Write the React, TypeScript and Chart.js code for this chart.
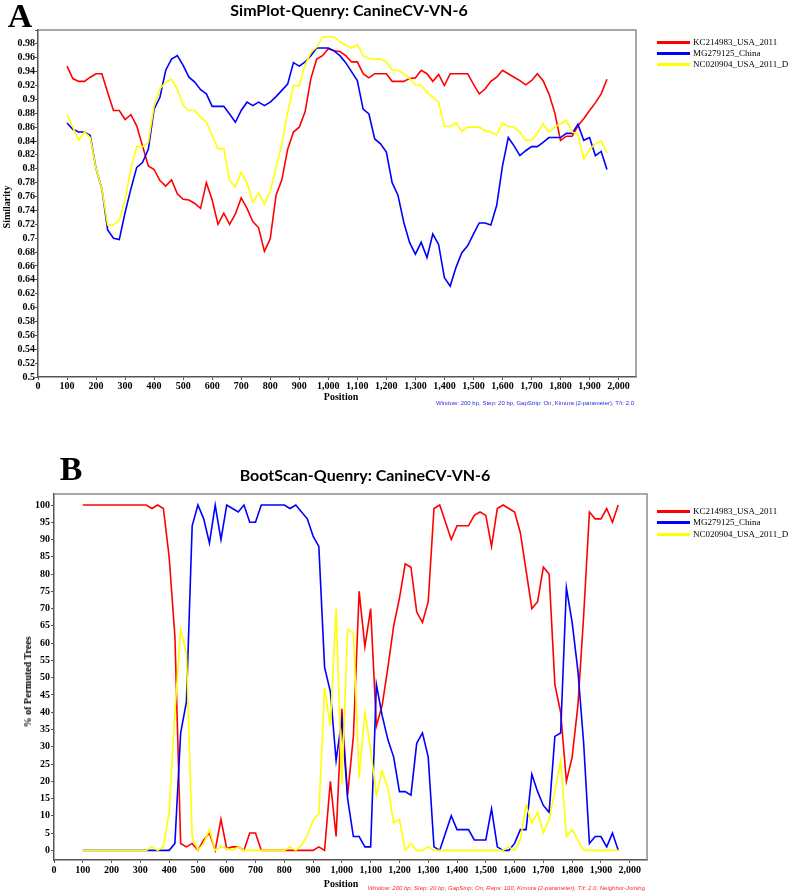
import React, { useEffect, useRef } from 'react';
import { Chart, registerables } from 'chart.js';

Chart.register(...registerables);

// ---------- DATA ----------
const positions = [
  100, 120, 140, 160, 180, 200, 220, 240, 260, 280,
  300, 320, 340, 360, 380, 400, 420, 440, 460, 480,
  500, 520, 540, 560, 580, 600, 620, 640, 660, 680,
  700, 720, 740, 760, 780, 800, 820, 840, 860, 880,
  900, 920, 940, 960, 980, 1000, 1020, 1040, 1060, 1080,
  1100, 1120, 1140, 1160, 1180, 1200, 1220, 1240, 1260, 1280,
  1300, 1320, 1340, 1360, 1380, 1400, 1420, 1440, 1460, 1480,
  1500, 1520, 1540, 1560, 1580, 1600, 1620, 1640, 1660, 1680,
  1700, 1720, 1740, 1760, 1780, 1800, 1820, 1840, 1860, 1880,
  1900, 1920, 1940, 1960,
];

const seriesNames = ['KC214983_USA_2011', 'MG279125_China', 'NC020904_USA_2011_D'];

// SimPlot similarity
const simRed = [
  0.948, 0.930, 0.926, 0.926, 0.932, 0.937, 0.937, 0.910, 0.884, 0.884,
  0.871, 0.878, 0.862, 0.833, 0.804, 0.799, 0.783, 0.775, 0.784, 0.764,
  0.756, 0.755, 0.750, 0.743, 0.780, 0.755, 0.720, 0.736, 0.720, 0.735,
  0.758, 0.743, 0.724, 0.715, 0.681, 0.699, 0.762, 0.784, 0.828, 0.853,
  0.860, 0.882, 0.930, 0.958, 0.963, 0.973,
  0.970, 0.969, 0.963, 0.954, 0.954, 0.937, 0.931, 0.937, 0.937, 0.937,
  0.926, 0.926, 0.926, 0.930, 0.931, 0.942, 0.937, 0.926, 0.936, 0.920,
  0.937, 0.937, 0.937, 0.937, 0.922, 0.908, 0.915, 0.926, 0.932, 0.942,
  0.937, 0.932, 0.927, 0.921, 0.927, 0.937, 0.927, 0.908, 0.881, 0.841,
  0.847, 0.847, 0.862, 0.872, 0.884, 0.895, 0.908, 0.929,
];
const simBlue = [
  0.866, 0.857, 0.853, 0.853, 0.848, 0.800, 0.771, 0.712, 0.700, 0.698,
  0.737, 0.771, 0.802, 0.809, 0.828, 0.886, 0.903, 0.942, 0.958, 0.963,
  0.949, 0.932, 0.925, 0.914, 0.908, 0.890, 0.890, 0.890, 0.879, 0.867,
  0.884, 0.896, 0.891, 0.896, 0.891, 0.896, 0.904, 0.913, 0.922, 0.953,
  0.948, 0.954, 0.963, 0.974, 0.974, 0.974,
  0.970, 0.963, 0.953, 0.940, 0.927, 0.886, 0.879, 0.843, 0.836, 0.824,
  0.780, 0.762, 0.723, 0.694, 0.677, 0.694, 0.672, 0.706, 0.691, 0.643,
  0.631, 0.658, 0.679, 0.689, 0.706, 0.722, 0.722, 0.719, 0.747, 0.804,
  0.845, 0.833, 0.819, 0.826, 0.832, 0.832, 0.838, 0.845, 0.845, 0.845,
  0.851, 0.851, 0.864, 0.841, 0.845, 0.819, 0.825, 0.799,
];
const simYellow = [
  0.878, 0.860, 0.841, 0.853, 0.845, 0.800, 0.771, 0.719, 0.719, 0.725,
  0.756, 0.800, 0.832, 0.832, 0.838, 0.891, 0.915, 0.925, 0.929, 0.915,
  0.891, 0.884, 0.884, 0.874, 0.867, 0.848, 0.829, 0.829, 0.783, 0.774,
  0.795, 0.780, 0.752, 0.765, 0.749, 0.768, 0.802, 0.836, 0.881, 0.920,
  0.920, 0.949, 0.968, 0.975, 0.990, 0.990,
  0.990, 0.983, 0.978, 0.974, 0.979, 0.963, 0.959, 0.958, 0.958, 0.954,
  0.942, 0.942, 0.937, 0.930, 0.921, 0.920, 0.910, 0.903, 0.896, 0.861,
  0.861, 0.866, 0.854, 0.860, 0.860, 0.860, 0.855, 0.853, 0.849, 0.866,
  0.861, 0.860, 0.853, 0.841, 0.841, 0.851, 0.865, 0.853, 0.860, 0.865,
  0.870, 0.853, 0.850, 0.814, 0.828, 0.836, 0.840, 0.823,
];

// BootScan % of permuted trees
const bootRed = [
  100, 100, 100, 100, 100, 100, 100, 100, 100, 100,
  100, 100, 99, 100, 99, 85, 62, 2, 1, 2,
  0, 3, 5, 0, 9, 0.5, 1, 1, 0, 5,
  5, 0, 0, 0, 0, 0, 0, 0, 0, 0,
  0, 1, 0, 20, 4, 41,
  16, 33, 75, 59, 70, 36, 42, 53, 65, 73,
  83, 82, 69, 66, 72, 99, 100, 95, 90, 94,
  94, 94, 97, 98, 97, 88, 99, 100, 99, 98,
  92, 81, 70, 72, 82, 80, 48, 40, 20, 27,
  42, 68, 98, 96, 96, 99, 95, 100,
];
const bootBlue = [
  0, 0, 0, 0, 0, 0, 0, 0, 0, 0,
  0, 0, 0, 0, 0, 0, 2, 34, 43, 94,
  100, 96, 89, 100, 90, 100, 99, 98, 100, 95,
  95, 100, 100, 100, 100, 100, 99, 100, 98, 96,
  91, 88, 53, 46, 26, 38,
  15, 4, 4, 1, 1, 48, 39, 32, 27, 17,
  17, 16, 31, 34, 27, 1, 0, 5, 10, 6,
  6, 6, 3, 3, 3, 12, 1, 0, 0, 2,
  6, 6, 22, 17, 13, 11, 33, 34, 76, 66,
  52, 31, 2, 4, 4, 1, 5, 0,
];
const bootYellow = [
  0, 0, 0, 0, 0, 0, 0, 0, 0, 0,
  0, 0, 1, 0, 1, 11, 40, 64, 57, 4,
  0, 2, 6, 0, 1, 0.5, 0, 1, 0, 0,
  0, 0, 0, 0, 0, 0, 1, 0, 1.5, 4.3,
  8.7, 10.6, 47, 36, 70, 19,
  64, 63, 21, 40, 29, 16, 23, 18, 8, 9,
  0, 2, 0, 0, 1, 0, 0, 0, 0, 0,
  0, 0, 0, 0, 0, 0, 0, 0, 1, 0,
  3, 13, 8, 11, 5, 9, 17, 26, 4, 6,
  3, 0, 0, 0, 0, 0, 0, 0,
];

const COLORS = ['#ff0000', '#0000ff', '#ffff00'];
const SERIF = '"Liberation Serif", "Times New Roman", serif';
const SANS = '"Liberation Sans", Arial, sans-serif';

const boxPlugin = {
  id: 'boxPlugin',
  afterDraw(chart: any) {
    const { ctx, chartArea } = chart;
    ctx.save();
    ctx.strokeStyle = '#8c8c8c';
    ctx.lineWidth = 1.5;
    ctx.beginPath();
    ctx.moveTo(chartArea.left, chartArea.top);
    ctx.lineTo(chartArea.right, chartArea.top);
    ctx.lineTo(chartArea.right, chartArea.bottom);
    ctx.stroke();
    ctx.restore();
  },
};

function buildConfig(p: {
  series: number[][];
  yMin: number;
  yMax: number;
  yStep: number;
  yFmt: (v: number) => string;
  padTop: number;
  padRight: number;
  yWidth: number;
  xHeight: number;
  yPad: number;
  xPad: number;
}) {
  const datasets = p.series.map((vals, i) => ({
    label: seriesNames[i],
    data: positions.map((x, j) => ({ x, y: vals[j] })),
    borderColor: COLORS[i],
    backgroundColor: COLORS[i],
    borderWidth: 1.6,
    pointRadius: 0,
    tension: 0,
    fill: false,
    order: 2 - i,
  }));
  const tickFont = { family: SERIF, weight: 'bold' as const, size: 10 };
  return {
    type: 'line' as const,
    data: { datasets },
    options: {
      responsive: false,
      animation: false as const,
      events: [],
      layout: { padding: { top: p.padTop, right: p.padRight, left: 0, bottom: 0 } },
      plugins: { legend: { display: false }, tooltip: { enabled: false }, title: { display: false } },
      scales: {
        x: {
          type: 'linear' as const,
          min: 0,
          max: 2060,
          afterFit: (s: any) => { s.height = p.xHeight; },
          ticks: {
            stepSize: 100,
            includeBounds: false,
            autoSkip: false,
            maxRotation: 0,
            padding: p.xPad,
            color: '#000',
            font: tickFont,
            callback: (v: any) => Number(v).toLocaleString('en-US'),
          },
          grid: { display: true, drawOnChartArea: false, drawTicks: true, tickLength: 3, color: '#555' },
          border: { display: true, color: '#555', width: 1.5 },
        },
        y: {
          type: 'linear' as const,
          min: p.yMin,
          max: p.yMax,
          afterFit: (s: any) => { s.width = p.yWidth; },
          ticks: {
            stepSize: p.yStep,
            includeBounds: false,
            autoSkip: false,
            padding: p.yPad,
            color: '#000',
            font: tickFont,
            callback: (v: any) => p.yFmt(Number(v)),
          },
          grid: { display: true, drawOnChartArea: false, drawTicks: true, tickLength: 3, color: '#555' },
          border: { display: true, color: '#555', width: 1.5 },
        },
      },
    },
    plugins: [boxPlugin],
  };
}

function Abs(props: { x: number; y: number; children: any; style?: any }) {
  return (
    <div
      style={{
        position: 'absolute',
        left: props.x,
        top: props.y,
        transform: 'translate(-50%, -50%)',
        whiteSpace: 'nowrap',
        lineHeight: 1,
        ...props.style,
      }}
    >
      {props.children}
    </div>
  );
}

function Rotated(props: { x: number; y: number; text: string; style: any }) {
  return (
    <div
      style={{
        position: 'absolute',
        left: props.x,
        top: props.y,
        transform: 'translate(-50%, -50%) rotate(-90deg)',
        whiteSpace: 'nowrap',
        lineHeight: 1,
        ...props.style,
      }}
    >
      {props.text}
    </div>
  );
}

function Legend(props: { x: number; ys: number[] }) {
  return (
    <>
      {seriesNames.map((name, i) => (
        <React.Fragment key={name}>
          <div
            style={{
              position: 'absolute',
              left: props.x,
              top: props.ys[i] - 1.5,
              width: 33,
              height: 3,
              background: COLORS[i],
            }}
          />
          <div
            style={{
              position: 'absolute',
              left: props.x + 36,
              top: props.ys[i],
              transform: 'translateY(-50%)',
              fontFamily: SERIF,
              fontSize: 9,
              lineHeight: 1,
              color: '#000',
              whiteSpace: 'nowrap',
            }}
          >
            {name}
          </div>
        </React.Fragment>
      ))}
    </>
  );
}

export default function App() {
  const refA = useRef<HTMLCanvasElement>(null);
  const refB = useRef<HTMLCanvasElement>(null);

  useEffect(() => {
    const cfgA: any = buildConfig({
      series: [simRed, simBlue, simYellow],
      yMin: 0.5,
      yMax: 1.0,
      yStep: 0.02,
      yFmt: (v) => (v > 0.995 ? '' : String(parseFloat(v.toFixed(2)))),
      padTop: 30,
      padRight: 790 - 636,
      yWidth: 38,
      xHeight: 400 - 377,
      yPad: 0,
      xPad: 0,
    });
    const cfgB: any = buildConfig({
      series: [bootRed, bootBlue, bootYellow],
      yMin: -2.8,
      yMax: 103.2,
      yStep: 5,
      yFmt: (v) => String(Math.round(v)),
      padTop: 54,
      padRight: 790 - 647,
      yWidth: 54,
      xHeight: 440 - 420,
      yPad: 1,
      xPad: 1,
    });
    const a = new Chart(refA.current as HTMLCanvasElement, cfgA);
    const b = new Chart(refB.current as HTMLCanvasElement, cfgB);
    return () => {
      a.destroy();
      b.destroy();
    };
  }, []);

  const titleStyle = { fontFamily: 'Lato, "Open Sans", sans-serif', fontWeight: 700, fontSize: 16, color: '#000' };
  const letterStyle = { fontFamily: SERIF, fontWeight: 700, fontSize: 34, color: '#000' };
  const axisTitle = { fontFamily: SERIF, fontWeight: 700, fontSize: 10, color: '#000' };

  return (
    <div style={{ position: 'absolute', left: 0, top: 0, width: 790, height: 895, background: '#fff', overflow: 'hidden' }}>
      <canvas ref={refA} width={790} height={400} style={{ position: 'absolute', left: 0, top: 0, width: 790, height: 400 }} />
      <canvas ref={refB} width={790} height={440} style={{ position: 'absolute', left: 0, top: 440, width: 790, height: 440 }} />

      {/* Panel A text */}
      <Abs x={20} y={16} style={letterStyle}>A</Abs>
      <Abs x={349} y={10} style={titleStyle}>SimPlot-Quenry: CanineCV-VN-6</Abs>
      <Rotated x={7} y={207} text="Similarity" style={axisTitle} />
      <Abs x={341} y={397} style={axisTitle}>Position</Abs>
      <div
        style={{
          position: 'absolute', right: 790 - 634, top: 403, transform: 'translateY(-50%)',
          fontFamily: SANS, fontSize: 6, lineHeight: 1, color: '#2a2ae6', whiteSpace: 'nowrap',
        }}
      >
        Window: 200 bp, Step: 20 bp, GapStrip: On, Kimura (2-parameter), T/t: 2.0
      </div>
      <Legend x={657} ys={[42, 53, 64]} />

      {/* Panel B text */}
      <Abs x={71} y={469} style={letterStyle}>B</Abs>
      <Abs x={365} y={475} style={titleStyle}>BootScan-Quenry: CanineCV-VN-6</Abs>
      <Rotated x={28} y={682} text="% of Permuted Trees" style={axisTitle} />
      <Abs x={341} y={884} style={axisTitle}>Position</Abs>
      <div
        style={{
          position: 'absolute', right: 790 - 645, top: 888, transform: 'translateY(-50%)',
          fontFamily: SANS, fontStyle: 'italic', fontSize: 6, lineHeight: 1, color: '#ff2a2a', whiteSpace: 'nowrap',
        }}
      >
        Window: 200 bp, Step: 20 bp, GapStrip: On, Reps: 100, Kimura (2-parameter), T/t: 2.0, Neighbor-Joining
      </div>
      <Legend x={657} ys={[511, 522, 534]} />
    </div>
  );
}
